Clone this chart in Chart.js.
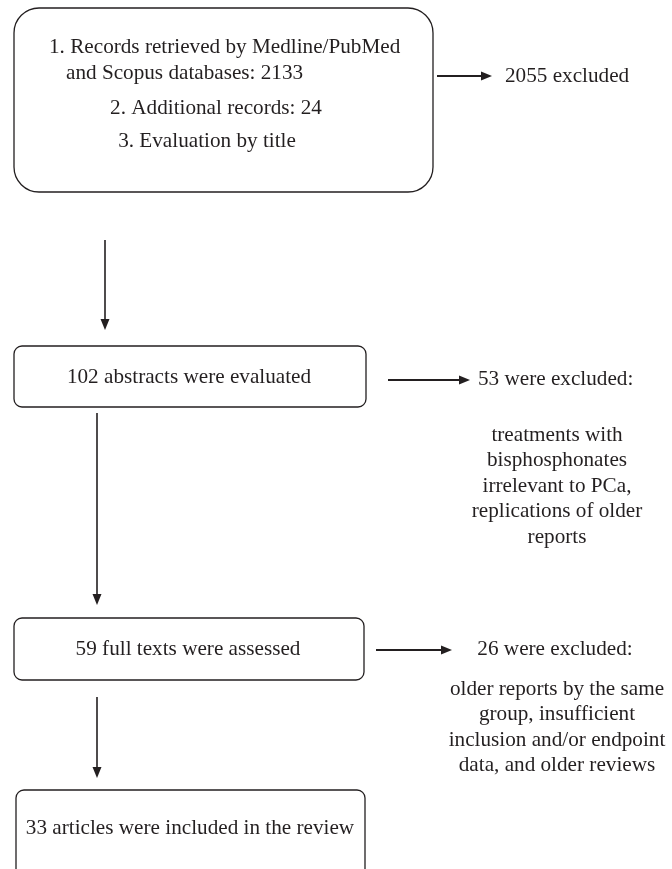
<!DOCTYPE html>
<html>
<head>
<meta charset="utf-8">
<script src="https://cdn.jsdelivr.net/npm/chart.js@4.4.1/dist/chart.umd.min.js"></script>
<style>
html,body{margin:0;padding:0;background:#fff;overflow:hidden}
canvas{display:block}
</style>
</head>
<body>
<canvas id="flow" width="672" height="869"></canvas>
<script>
// record counts
const sourceCounts = [2133, 24];
const excludedCounts = [2055, 53, 26];
const stageCounts = [102, 59, 33];
const stageText = ['abstracts were evaluated', 'full texts were assessed', 'articles were included in the review'];
const reasons = [
  [],
  ['treatments with', 'bisphosphonates', 'irrelevant to PCa,', 'replications of older', 'reports'],
  ['older reports by the same', 'group, insufficient', 'inclusion and/or endpoint', 'data, and older reviews']
];

// layout, in chart units (x 0..672, y 0..869 from the top)
const boxes = [
  {x0: 14, y0: 8, x1: 433, y1: 192, r: 25},
  {x0: 14, y0: 346, x1: 366, y1: 407, r: 8},
  {x0: 14, y0: 618, x1: 364, y1: 680, r: 8},
  {x0: 16, y0: 790, x1: 365, y1: 900, r: 8}
];
const downArrows = [
  {x: 105, y0: 240, y1: 330},
  {x: 97, y0: 413, y1: 605},
  {x: 97, y0: 697, y1: 778}
];
const sideArrows = [
  {y: 76, x0: 437, x1: 492},
  {y: 380, x0: 388, x1: 470},
  {y: 650, x0: 376, x1: 452}
];

const ink = '#231f20';
const fontFamily = '"Liberation Serif", "Times New Roman", serif';

const flowPlugin = {
  id: 'flow',
  afterDraw(chart) {
    const ctx = chart.ctx;
    const sx = v => chart.scales.x.getPixelForValue(v);
    const sy = v => chart.scales.y.getPixelForValue(v);

    // font size fitted to the widest line of the first box
    const line1 = '1. Records retrieved by Medline/PubMed';
    ctx.font = '100px ' + fontFamily;
    const fs = Math.round(352 / ctx.measureText(line1).width * 100 * 10) / 10;
    const font = fs + 'px ' + fontFamily;

    ctx.save();
    ctx.strokeStyle = ink;
    ctx.fillStyle = ink;

    // boxes
    ctx.lineWidth = 1.3;
    boxes.forEach(b => {
      ctx.beginPath();
      ctx.roundRect(sx(b.x0), sy(b.y0), sx(b.x1) - sx(b.x0), sy(b.y1) - sy(b.y0), b.r);
      ctx.stroke();
    });

    // arrows
    const head = (x, y, dir) => {
      ctx.beginPath();
      if (dir === 'down') {
        ctx.moveTo(x, y); ctx.lineTo(x - 4.5, y - 11); ctx.lineTo(x + 4.5, y - 11);
      } else {
        ctx.moveTo(x, y); ctx.lineTo(x - 11, y - 4.5); ctx.lineTo(x - 11, y + 4.5);
      }
      ctx.closePath();
      ctx.fill();
    };
    ctx.lineWidth = 1.6;
    downArrows.forEach(a => {
      ctx.beginPath();
      ctx.moveTo(sx(a.x), sy(a.y0));
      ctx.lineTo(sx(a.x), sy(a.y1) - 8);
      ctx.stroke();
      head(sx(a.x), sy(a.y1), 'down');
    });
    ctx.lineWidth = 2;
    sideArrows.forEach(a => {
      ctx.beginPath();
      ctx.moveTo(sx(a.x0), sy(a.y));
      ctx.lineTo(sx(a.x1) - 8, sy(a.y));
      ctx.stroke();
      head(sx(a.x1), sy(a.y), 'right');
    });

    // texts
    ctx.font = font;
    ctx.textBaseline = 'middle';
    const put = (t, x, y, align) => {
      ctx.textAlign = align;
      ctx.fillText(t, sx(x), sy(y));
    };
    put('1. Records retrieved by Medline/PubMed', 49, 47, 'left');
    put('and Scopus databases: ' + sourceCounts[0], 66, 73, 'left');
    put('2. Additional records: ' + sourceCounts[1], 216, 108, 'center');
    put('3. Evaluation by title', 207, 141, 'center');

    put(stageCounts[0] + ' ' + stageText[0], 189, 377, 'center');
    put(stageCounts[1] + ' ' + stageText[1], 188, 649, 'center');
    put(stageCounts[2] + ' ' + stageText[2], 190, 828, 'center');

    put(excludedCounts[0] + ' excluded', 505, 76, 'left');
    put(excludedCounts[1] + ' were excluded:', 478, 379, 'left');
    put(excludedCounts[2] + ' were excluded:', 555, 649, 'center');

    const reasonTop = [0, 435, 689];
    [1, 2].forEach(i => {
      reasons[i].forEach((t, k) => put(t, 557, reasonTop[i] + k * 25.5, 'center'));
    });
    ctx.restore();
  }
};

new Chart(document.getElementById('flow').getContext('2d'), {
  type: 'scatter',
  data: {datasets: [{data: [], pointRadius: 0}]},
  options: {
    responsive: false,
    animation: false,
    layout: {padding: 0},
    plugins: {legend: {display: false}, tooltip: {enabled: false}},
    scales: {
      x: {type: 'linear', min: 0, max: 672, display: false},
      y: {type: 'linear', min: 0, max: 869, reverse: true, display: false}
    }
  },
  plugins: [flowPlugin]
});
</script>
</body>
</html>
